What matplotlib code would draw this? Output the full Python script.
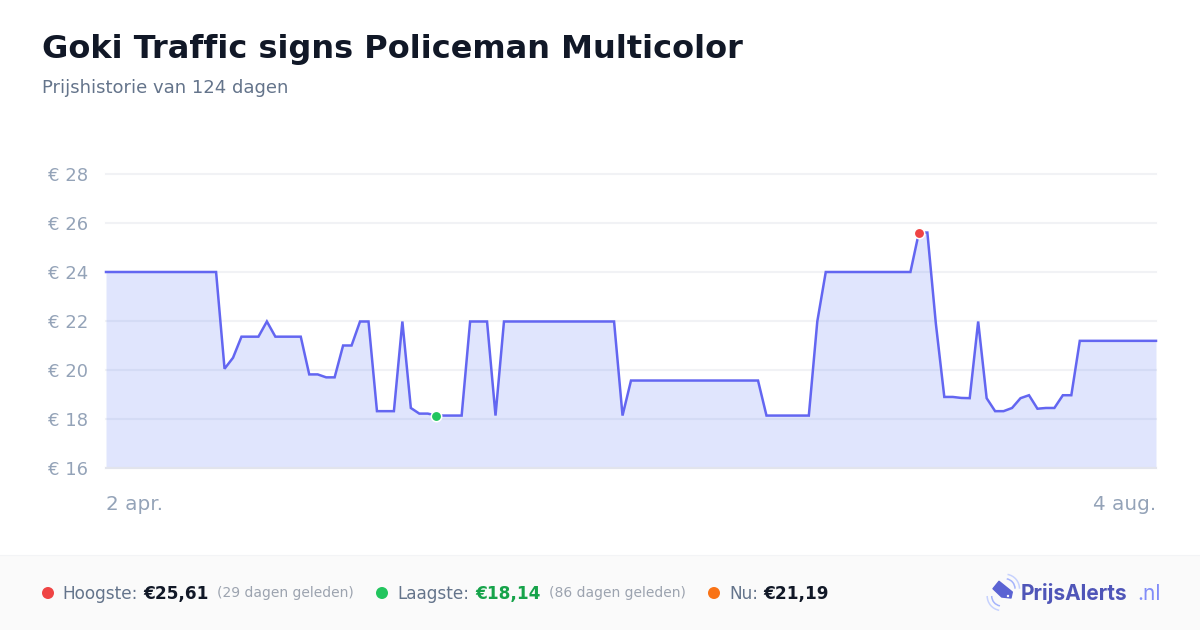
import matplotlib
matplotlib.use("Agg")
import matplotlib.pyplot as plt
from matplotlib.patches import Polygon, Arc, Circle, Rectangle

# prijs per dag
prices = [24.0] * 14 + [
    20.05, 20.5, 21.36, 21.36, 21.36, 21.98, 21.36, 21.36, 21.36, 21.36,
    19.82, 19.82, 19.7, 19.7, 21.0, 21.0, 21.98, 21.98, 18.32, 18.32, 18.32,
    21.98, 18.45, 18.22, 18.22, 18.14, 18.14, 18.14, 18.14,
    21.98, 21.98, 21.98, 18.14,
] + [21.98] * 14 + [18.14] + [19.57] * 16 + [18.14] * 6 + [21.98] + [24.0] * 11 + [
    25.61, 25.61, 21.9, 18.9, 18.9, 18.86, 18.85, 21.98, 18.85, 18.32, 18.32,
    18.45, 18.85, 18.97, 18.42, 18.45, 18.45, 18.97, 18.97,
] + [21.19] * 10
days = list(range(len(prices)))

y_ticks = [16, 18, 20, 22, 24, 26, 28]
y_labels = ["€ 16", "€ 18", "€ 20", "€ 22", "€ 24", "€ 26", "€ 28"]

high_day, high_price = 96, 25.61
low_day, low_price = 39, 18.14

W, H = 1200, 630
LINE = "#6366f1"

plt.rcParams["font.family"] = ["DejaVu Sans"]
fig = plt.figure(figsize=(W / 100, H / 100), dpi=100, facecolor="white")

# overlay in pixels voor titel en footer
bg = fig.add_axes([0, 0, 1, 1], zorder=0)
bg.set_xlim(0, W)
bg.set_ylim(H, 0)
bg.axis("off")
bg.add_patch(Rectangle((0, 555), W, 75, facecolor="#fafafa", edgecolor="none"))
bg.plot([0, W], [554.5, 554.5], color="#f3f4f6", lw=0.8)

bg.text(42, 46, "Goki Traffic signs Policeman Multicolor", fontsize=23,
        fontweight="bold", color="#111827", va="center_baseline")
bg.text(42, 86, "Prijshistorie van 124 dagen", fontsize=13, color="#64748b",
        va="center_baseline")

# grafiek
ax = fig.add_axes([106 / W, 1 - 468 / H, 1050 / W, 294 / H], zorder=1)
ax.patch.set_alpha(0)
ax.set_xlim(0, 124)
ax.set_ylim(16, 28)
for s in ax.spines.values():
    s.set_visible(False)
ax.set_yticks(y_ticks, y_labels)
ax.set_xticks([])
ax.tick_params(axis="y", length=0, pad=13, labelsize=13, labelcolor="#94a3b8")
for lab in ax.get_yticklabels():
    lab.set_verticalalignment("center_baseline")
ax.grid(axis="y", color="#f1f2f5", lw=1.5, zorder=1, clip_on=False)
ax.set_axisbelow(True)
ax.fill_between(days, prices, 16, color="#6480f5", alpha=0.2, lw=0, zorder=2)
ax.axhline(16, color="#e2e4ec", lw=1.5, zorder=2.5, clip_on=False)
ax.plot(days, prices, color=LINE, lw=1.8, zorder=3, solid_joinstyle="miter",
        clip_on=False)
ax.plot([high_day], [high_price], "o", ms=7.5, mfc="#ef4444", mec="white", mew=1.1,
        zorder=4, clip_on=False)
ax.plot([low_day], [low_price], "o", ms=7.5, mfc="#22c55e", mec="white", mew=1.1,
        zorder=4, clip_on=False)

bg.text(106, 502, "2 apr.", fontsize=14.4, color="#94a3b8", va="center_baseline")
bg.text(1156, 502, "4 aug.", fontsize=14.4, color="#94a3b8", ha="right",
        va="center_baseline")

# footer
FY = 592
for x, c in [(48, "#ef4444"), (382, "#22c55e"), (714, "#f97316")]:
    bg.add_patch(Circle((x, 593), 6, facecolor=c, edgecolor="none"))
for x, t in [(62, "Hoogste:"), (397, "Laagste:"), (729, "Nu:")]:
    bg.text(x, FY, t, fontsize=12.2, color="#64748b", va="center_baseline")
for x, t, c in [(143, "€25,61", "#111827"), (475, "€18,14", "#16a34a"),
                (763, "€21,19", "#111827")]:
    bg.text(x, FY, t, fontsize=12.2, fontweight="bold", color=c, va="center_baseline")
for x, t in [(217, "(29 dagen geleden)"), (549, "(86 dagen geleden)")]:
    bg.text(x, FY, t, fontsize=10, color="#9ca3af", va="center_baseline")

# logo
tag = [(993, 588.7), (999, 581.3), (1012.3, 592), (1011, 598), (1001.7, 597)]
bg.add_patch(Polygon(tag, closed=True, facecolor="#5b63d3", edgecolor="#5b63d3",
                     lw=1, joinstyle="round"))
bg.add_patch(Circle((1008, 596), 1.2, facecolor="white", edgecolor="none"))
for r, c in [(20, "#a5b4fc"), (29, "#c7d2fe")]:
    bg.add_patch(Arc((1005, 588.7), r, r, theta1=-80, theta2=0, color=c, lw=1.1))
    bg.add_patch(Arc((1001.7, 596), r, r, theta1=100, theta2=180, color=c, lw=1.1))
bg.text(1021, 592, "PrijsAlerts", fontsize=15, family="Inter", fontweight="bold",
        color="#4f55b8", va="center_baseline")
bg.text(1137, 592, ".nl", fontsize=15, family="Inter", color="#818cf8",
        va="center_baseline")

fig.savefig("out.png", dpi=100)
